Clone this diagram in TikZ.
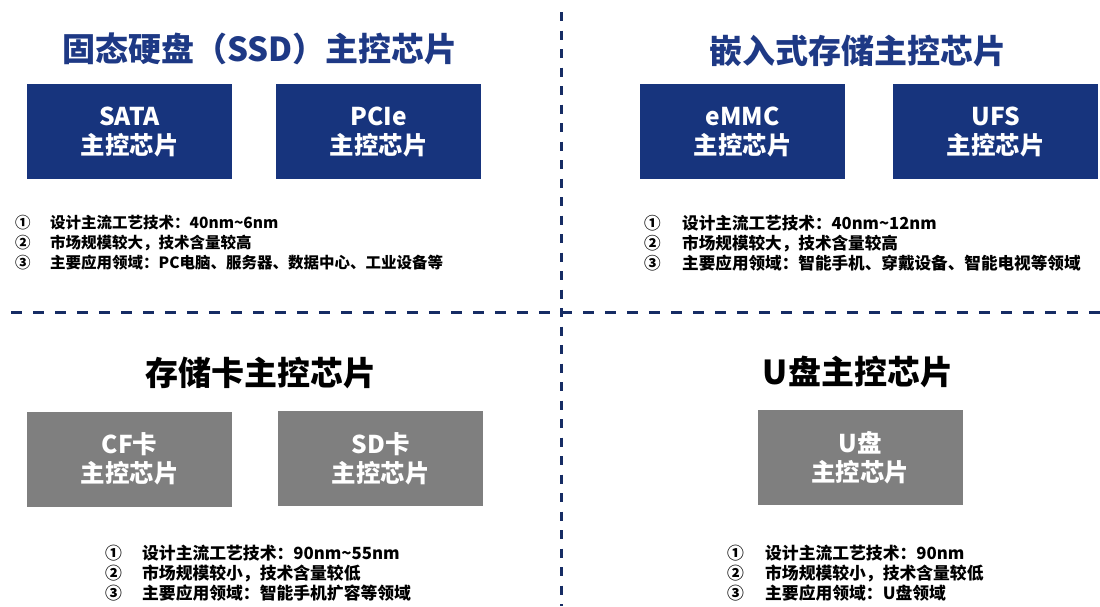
\documentclass[tikz,border=0pt]{standalone}
\usepackage{fontspec}
\setmainfont{Noto Sans CJK SC}
\usepackage{tikz}

\definecolor{chipblue}{RGB}{23,52,125}
\definecolor{titleblue}{RGB}{30,57,133}
\definecolor{lineblue}{RGB}{22,44,100}
\definecolor{chipgray}{RGB}{127,127,127}

\begin{document}
\begin{tikzpicture}[x=1pt,y=-1pt,
    chip/.style={fill=#1, minimum width=205pt, minimum height=95pt, inner sep=0pt,
      text=white, align=center, font=\fontsize{24.5}{29}\selectfont\bfseries},
    heading/.style={text=#1, inner sep=0pt, font=\fontsize{33}{38}\selectfont\bfseries},
    notes/.style={anchor=west, inner sep=0pt, align=left, font=\fontsize{#1}{20}\selectfont\bfseries},
    divider/.style={draw=lineblue, line width=3pt, dash pattern=#1}]
  \useasboundingbox (0,0) rectangle (1100,606);

  % dividing lines
  \coordinate (vtop) at (561,12);
  \coordinate (vbot) at (561,606);
  \coordinate (hleft) at (11,312);
  \coordinate (hright) at (1100,312);
  \draw[divider={on 9pt off 9.5pt}] (vtop) -- (vbot);
  \draw[divider={on 11pt off 11pt}] (hleft) -- (hright);

  % SSD
  \node[heading=titleblue](ssd) at (260,49) {固态硬盘（SSD）主控芯片};
  \node[chip=chipblue](sata) at (129.5,131.5) {SATA\\主控芯片};
  \node[chip=chipblue](pcie) at (378.5,131.5) {PCIe\\主控芯片};
  \node[notes=15.5](ssdnotes) at (15,243) {\makebox[35pt][l]{①}设计主流工艺技术：40nm\textasciitilde 6nm\\
    \makebox[35pt][l]{②}市场规模较大，技术含量较高\\
    \makebox[35pt][l]{③}主要应用领域：PC电脑、服务器、数据中心、工业设备等};

  % embedded
  \node[heading=titleblue](emb) at (858,51) {嵌入式存储主控芯片};
  \node[chip=chipblue](emmc) at (742.5,131.5) {eMMC\\主控芯片};
  \node[chip=chipblue](ufs) at (995.5,131.5) {UFS\\主控芯片};
  \node[notes=16.6](embnotes) at (644,243) {\makebox[38pt][l]{①}设计主流工艺技术：40nm\textasciitilde 12nm\\
    \makebox[38pt][l]{②}市场规模较大，技术含量较高\\
    \makebox[38pt][l]{③}主要应用领域：智能手机、穿戴设备、智能电视等领域};

  % memory card
  \node[heading=black](card) at (261,373) {存储卡主控芯片};
  \node[chip=chipgray](cf) at (129.5,459) {CF卡\\主控芯片};
  \node[chip=chipgray](sd) at (380.5,458.5) {SD卡\\主控芯片};
  \node[notes=16.8](cardnotes) at (105,573) {\makebox[37pt][l]{①}设计主流工艺技术：90nm\textasciitilde 55nm\\
    \makebox[37pt][l]{②}市场规模较小，技术含量较低\\
    \makebox[37pt][l]{③}主要应用领域：智能手机扩容等领域};

  % usb
  \node[heading=black](usb) at (858,372) {U盘主控芯片};
  \node[chip=chipgray](udisk) at (860,457.5) {U盘\\主控芯片};
  \node[notes=16.8](usbnotes) at (727,573) {\makebox[38pt][l]{①}设计主流工艺技术：90nm\\
    \makebox[38pt][l]{②}市场规模较小，技术含量较低\\
    \makebox[38pt][l]{③}主要应用领域：U盘领域};
\end{tikzpicture}
\end{document}
